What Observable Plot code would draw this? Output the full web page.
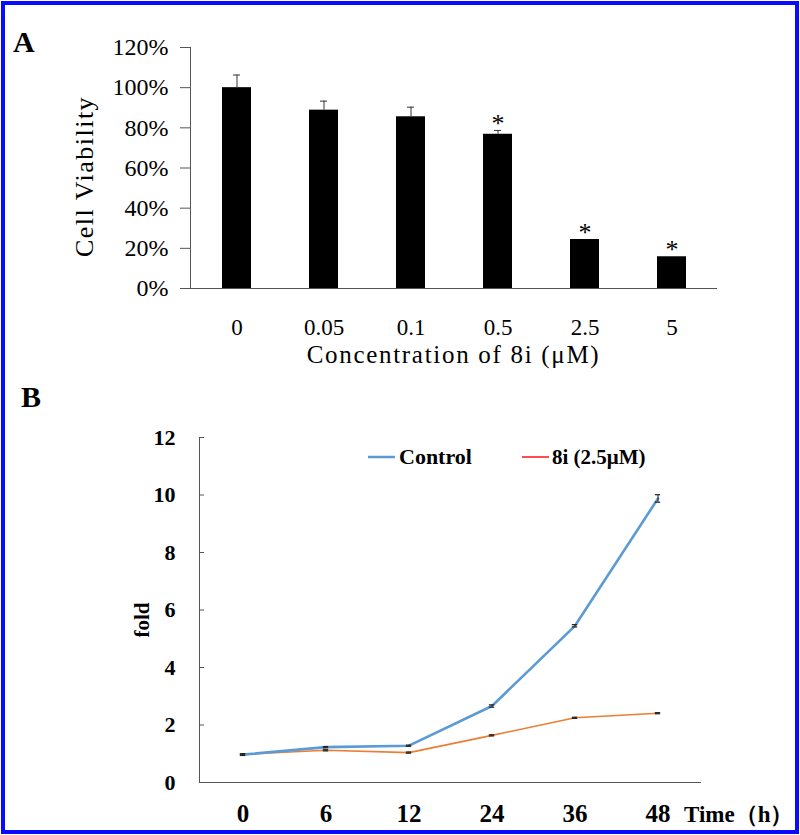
<!DOCTYPE html>
<html>
<head>
<meta charset="utf-8">
<script src="https://cdn.jsdelivr.net/npm/d3@7"></script>
<script src="https://cdn.jsdelivr.net/npm/@observablehq/plot@0.6"></script>
<style>
  html, body { margin: 0; padding: 0; background: #fff; }
  #root { position: relative; width: 800px; height: 835px; overflow: hidden; background: #fff; }
  #root > .plot { position: absolute; left: 0; }
  #border { position: absolute; left: 1px; top: 1px; width: 798px; height: 833px; box-sizing: border-box; border: 4px solid #0a0aff; pointer-events: none; }
  #overlay { position: absolute; left: 0; top: 0; pointer-events: none; }
</style>
</head>
<body>
<div id="root"></div>
<script>
// ---------- Panel A data ----------
const concCats = ["0", "0.05", "0.1", "0.5", "2.5", "5"];
const viability = [1.00, 0.888, 0.855, 0.768, 0.244, 0.158];
const viabilityErr = [0.063, 0.045, 0.048, 0.019, 0, 0];
const significant = [false, false, false, true, true, true];
const viabilityTicks = [0, 0.2, 0.4, 0.6, 0.8, 1.0, 1.2];

// ---------- Panel B data ----------
const timeCats = ["0", "6", "12", "24", "36", "48"];
const controlFold = [0.97, 1.23, 1.28, 2.66, 5.45, 9.88];
const controlErr = [0.03, 0.02, 0.02, 0.04, 0.04, 0.13];
const drugFold = [0.98, 1.12, 1.04, 1.64, 2.25, 2.41];
const drugErr = [0.02, 0.02, 0.02, 0.02, 0.02, 0.02];
const foldTicks = [0, 2, 4, 6, 8, 10, 12];

const serif = "'Liberation Serif', 'Times New Roman', serif";

const barData = concCats.map((c, i) => ({c, v: viability[i], e: viabilityErr[i], s: significant[i]}));
const errA = barData.filter(d => d.e > 0);
const starData = barData.filter(d => d.s);

const plotA = Plot.plot({
  width: 800, height: 375,
  marginLeft: 190, marginRight: 83, marginTop: 47, marginBottom: 87,
  style: {fontFamily: serif, background: "transparent", color: "black"},
  x: {type: "band", domain: concCats, paddingInner: 0.67, paddingOuter: 0.33, axis: null},
  y: {domain: [0, 1.2], axis: null},
  marks: [
    Plot.barY(barData, {x: "c", y: "v", fill: "black"}),
    Plot.ruleX(errA, {x: "c", y1: "v", y2: d => d.v + d.e, stroke: "#333", strokeWidth: 1}),
    Plot.tickY(errA, {x: "c", y: d => d.v + d.e, insetLeft: 11, insetRight: 11, stroke: "#333", strokeWidth: 1}),
    Plot.text(starData, {x: "c", y: d => d.v + d.e, text: () => "*", dy: -7, fontSize: 26, fill: "black"}),
    Plot.ruleY([0], {stroke: "#555"}),
    Plot.frame({anchor: "left", stroke: "#555"}),
    Plot.axisY({ticks: viabilityTicks, tickFormat: d3.format(".0%"), tickSize: 10, tickPadding: 12, fontSize: 24, label: null, stroke: "#555", fill: "black"}),
    Plot.axisX({tickSize: 0, tickPadding: 30, fontSize: 23, label: null, fill: "black", style: "letter-spacing:1px"})
  ]
});
plotA.classList.add("plot");
plotA.style.top = "0px";

const ctrlData = timeCats.map((t, i) => ({t, v: controlFold[i], e: controlErr[i]}));
const drugData = timeCats.map((t, i) => ({t, v: drugFold[i], e: drugErr[i]}));
const allErr = ctrlData.concat(drugData);
const capInset = (800 - 199 - 99) / timeCats.length / 2 - 3;

const plotB = Plot.plot({
  width: 800, height: 455,
  marginLeft: 199, marginRight: 99, marginTop: 57, marginBottom: 53,
  style: {fontFamily: serif, background: "transparent", color: "black"},
  x: {type: "band", domain: timeCats, padding: 0, axis: null},
  y: {domain: [0, 12], axis: null},
  marks: [
    Plot.ruleY([0], {stroke: "#555"}),
    Plot.frame({anchor: "left", stroke: "#555"}),
    Plot.tickY(foldTicks, {y: d => d, insetRight: 497, stroke: "#555"}),
    Plot.line(drugData, {x: "t", y: "v", stroke: "#ED7D31", strokeWidth: 1.6}),
    Plot.line(ctrlData, {x: "t", y: "v", stroke: "#5B9BD5", strokeWidth: 2.6}),
    Plot.ruleX(allErr, {x: "t", y1: d => d.v - d.e, y2: d => d.v + d.e, stroke: "#222", strokeWidth: 1}),
    Plot.tickY(allErr, {x: "t", y: d => d.v + d.e, insetLeft: capInset, insetRight: capInset, stroke: "#222", strokeWidth: 1.2}),
    Plot.tickY(allErr, {x: "t", y: d => d.v - d.e, insetLeft: capInset, insetRight: capInset, stroke: "#222", strokeWidth: 1.2}),
    Plot.axisY({ticks: foldTicks, tickSize: 0, tickPadding: 24, fontSize: 22, fontWeight: "bold", label: null, fill: "black"}),
    Plot.axisX({tickSize: 0, tickPadding: 22, fontSize: 25, fontWeight: "bold", label: null, fill: "black"})
  ]
});
plotB.classList.add("plot");
plotB.style.top = "380px";

const root = document.getElementById("root");
root.appendChild(plotA);
root.appendChild(plotB);

// overlay texts (titles, legend)
const NS = "http://www.w3.org/2000/svg";
const ov = document.createElementNS(NS, "svg");
ov.setAttribute("id", "overlay");
ov.setAttribute("width", 800);
ov.setAttribute("height", 835);
function txt(str, attrs) {
  const t = document.createElementNS(NS, "text");
  t.textContent = str;
  for (const k in attrs) t.setAttribute(k, attrs[k]);
  if (!attrs["font-family"]) t.setAttribute("font-family", serif);
  ov.appendChild(t);
  return t;
}
function line(x1, y1, x2, y2, stroke, w) {
  const l = document.createElementNS(NS, "line");
  l.setAttribute("x1", x1); l.setAttribute("y1", y1);
  l.setAttribute("x2", x2); l.setAttribute("y2", y2);
  l.setAttribute("stroke", stroke); l.setAttribute("stroke-width", w);
  ov.appendChild(l);
}
txt("A", {x: 13, y: 52, "font-size": 30, "font-weight": "bold"});
txt("B", {x: 21, y: 407, "font-size": 30, "font-weight": "bold"});
txt("Cell Viability", {transform: "translate(93,176.5) rotate(-90)", "text-anchor": "middle", "font-size": 26, "letter-spacing": "1.5px"});
txt("Concentration of 8i (\u03bcM)", {x: 453.5, y: 363, "text-anchor": "middle", "font-size": 25, "letter-spacing": "1.7px"});
txt("fold", {transform: "translate(149,620) rotate(-90)", "text-anchor": "middle", "font-size": 21, "font-weight": "bold"});
txt("Time\uff08h\uff09", {x: 684, y: 822, "font-size": 23, "font-weight": "bold"});
line(368, 457, 395, 457, "#5B9BD5", 2.5);
txt("Control", {x: 399, y: 464, "font-size": 22, "font-weight": "bold"});
line(522, 457, 549, 457, "#FF1010", 1.5);
txt("8i (2.5\u03bcM)", {x: 552, y: 464, "font-size": 21, "font-weight": "bold"});
root.appendChild(ov);

const border = document.createElement("div");
border.id = "border";
root.appendChild(border);
</script>
</body>
</html>
